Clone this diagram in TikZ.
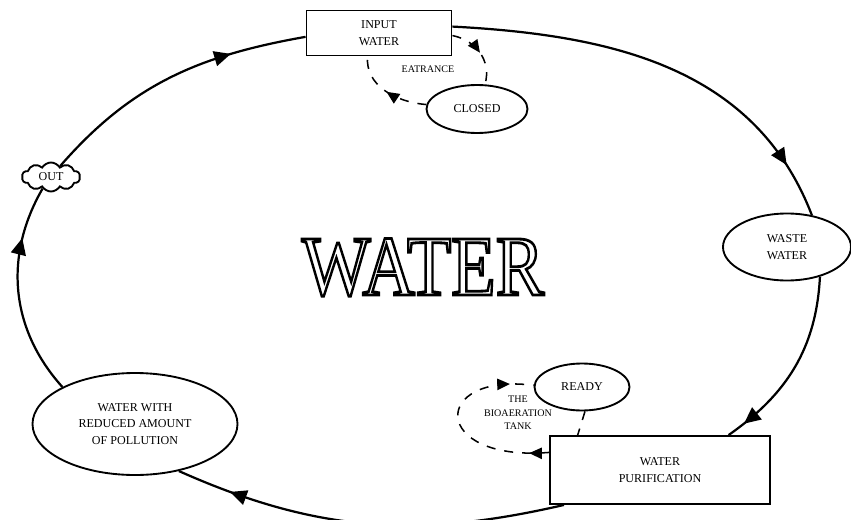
\documentclass[tikz,border=0pt]{standalone}
\usepackage{fontspec}
\setmainfont{Liberation Serif}
\usepackage{graphicx}
\usetikzlibrary{shapes.geometric,shapes.symbols,arrows.meta,decorations.markings}
\newcommand{\hollow}[1]{\special{pdf:literal direct 1 Tr 2.4 w}#1\special{pdf:literal direct 0 Tr}}

\begin{document}
\begin{tikzpicture}[
    x=0.3mm, y=0.3mm,
    font=\fontsize{10.3}{14}\selectfont,
    stage/.style={draw, rectangle, line width=1.6pt, inner sep=0pt, align=center},
    oval/.style={draw, ellipse, line width=1.6pt, inner sep=0pt, align=center},
    note/.style={font=\fontsize{8.6}{11.5}\selectfont, align=center},
    flow/.style={line width=1.9pt},
    dashflow/.style={dash pattern=on 2.7mm off 2.7mm, line width=1.3pt},
    head at/.style={postaction={decorate, decoration={markings, mark=at position #1 with {\arrow{Triangle[length=5mm,width=4.5mm]}}}}},
    small head at/.style={postaction={decorate, decoration={markings, mark=at position #1 with {\arrow{Triangle[length=3.8mm,width=3.4mm]}}}}}
]
\useasboundingbox (0,0) rectangle (851,-520);

% Stages
\node[stage, minimum width=43.5mm, minimum height=13.5mm] (inwater) at (379,-33) {INPUT\\WATER};
\node[oval, minimum width=30.3mm, minimum height=14.4mm] (closed) at (477,-109) {CLOSED};
\node[note] (eatr) at (428,-69) {EATRANCE};
\node[oval, minimum width=38.4mm, minimum height=20.1mm] (waste) at (787,-247) {WASTE\\WATER};
\node[stage, minimum width=66mm, minimum height=20.4mm] (purif) at (660,-470) {WATER\\PURIFICATION};
\node[oval, minimum width=28.5mm, minimum height=14.1mm] (ready) at (582,-387) {READY};
\node[note] (tank) at (518,-413) {THE\\BIOAERATION\\TANK};
\node[oval, minimum width=61.5mm, minimum height=30.6mm] (reduced) at (135,-424) {WATER WITH\\REDUCED AMOUNT\\OF POLLUTION};
\node[draw, cloud, cloud puffs=10, cloud puff arc=120, aspect=2, line width=1.6pt, inner sep=0pt,
      minimum width=17.4mm, minimum height=8.7mm] (out) at (51,-177) {OUT};

% Title
\node[anchor=base, font=\fontsize{73}{80}\selectfont] (title) at (423,-295)
    {\scalebox{0.85}[1]{\hollow{WATER}}};

% Cycle
\draw[flow, head at=0.87] (inwater.5) to[out=-3, in=111] (waste.52);
\draw[flow, head at=0.9] (waste.-42) to[out=-93, in=35] (purif.27);
\draw[flow, head at=0.86] (purif.200) to[out=193, in=-24] (reduced.-47);
\draw[flow, head at=0.75] (reduced.153) to[out=132, in=240] (out.-126);
\draw[flow, head at=0.73] (out.50) to[out=49, in=190] (inwater.183);

% Inlet loop
\draw[dashflow, small head at=0.5] (inwater.-2) .. controls (475,-40) and (492,-60) .. (closed.72);
\draw[dashflow, small head at=0.5] (closed.175) .. controls (395,-102) and (365,-85) .. (inwater.-116);

% Aeration loop
\draw[dashflow, small head at=0.1, small head at=0.88] (purif.171) .. controls (430,-462) and (430,-372) .. (ready.178);
\draw[dashflow] (ready.-83) -- (purif.157);

\end{tikzpicture}
\end{document}
